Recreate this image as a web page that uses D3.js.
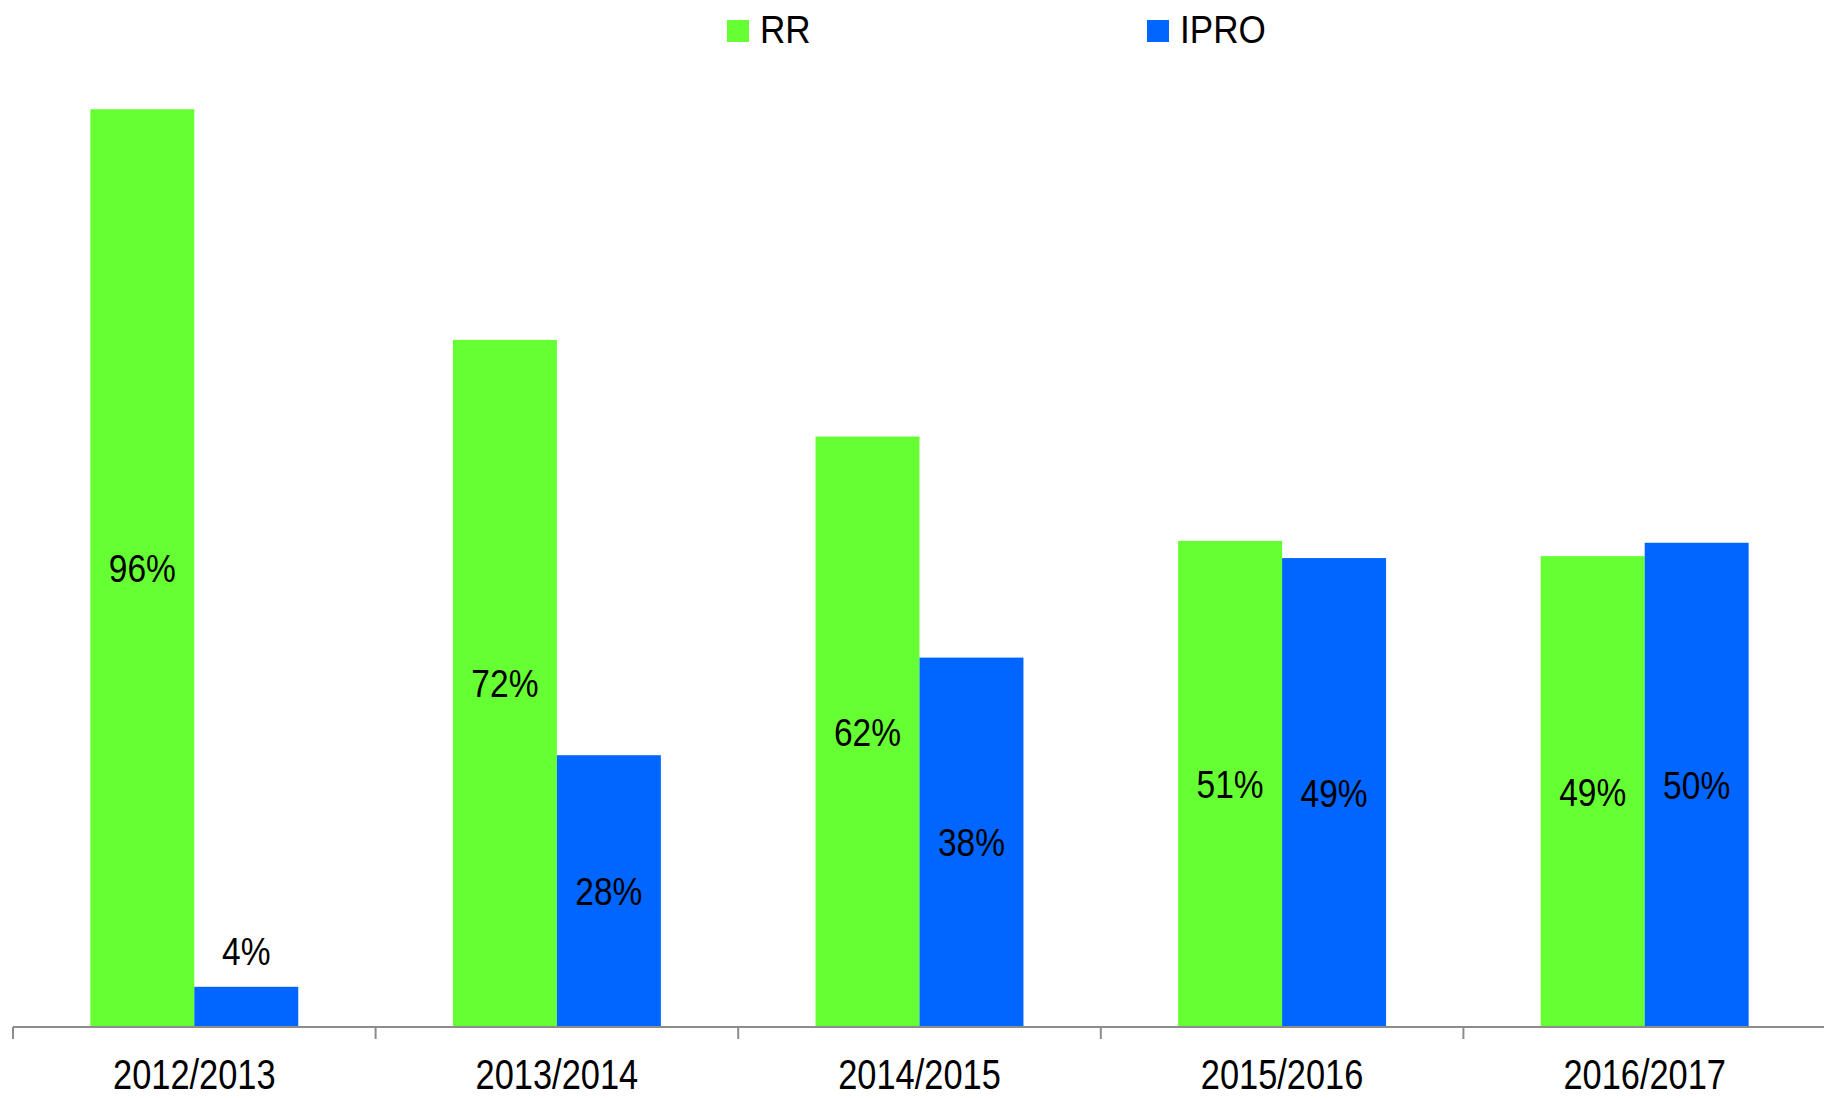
<!DOCTYPE html>
<html lang="en">
<head>
<meta charset="UTF-8">
<title>RR vs IPRO</title>
<script src="https://d3js.org/d3.v7.min.js"></script>
<style>
  body { margin: 0; background: #fff; }
  svg text { font-family: "Liberation Sans Narrow", "Arial Narrow", "Liberation Sans", Arial, sans-serif; fill: #000; }
</style>
</head>
<body>
<svg id="chart"></svg>
<script>
  // chart data
  var seasons = ["2012/2013", "2013/2014", "2014/2015", "2015/2016", "2016/2017"];
  var series = ["RR", "IPRO"];
  var rrValues = [95.9, 71.8, 61.7, 50.8, 49.2];
  var iproValues = [4.2, 28.4, 38.6, 49.0, 50.6];
  var rrLabels = ["96%", "72%", "62%", "51%", "49%"];
  var iproLabels = ["4%", "28%", "38%", "49%", "50%"];

  var colors = { RR: "#66ff33", IPRO: "#0066ff" };

  var W = 1824, H = 1098;
  var svg = d3.select("#chart").attr("width", W).attr("height", H);

  // no narrow font installed, so squeeze the text horizontally
  function squeeze(sel, sx, fx, fy) {
    sel.attr("transform", function (d, i) {
      return "translate(" + fx(d, i) + "," + fy(d, i) + ") scale(" + sx + ",1)";
    });
  }

  // x scale for the seasons, y scale for the percentage
  var x0 = d3.scaleBand().domain(seasons).range([13, 1826]).padding(0);
  var x1 = d3.scaleBand().domain(series).range([0, x0.bandwidth()])
    .paddingInner(0).paddingOuter(0.744);
  var y = d3.scaleLinear().domain([0, 100]).range([1027, 70]);

  // build rows from the arrays
  var rows = seasons.map(function (s, i) {
    return [
      { season: s, key: "RR", value: rrValues[i], label: rrLabels[i] },
      { season: s, key: "IPRO", value: iproValues[i], label: iproLabels[i] }
    ];
  });

  var groups = svg.selectAll("g.season")
    .data(rows)
    .enter().append("g")
    .attr("class", "season")
    .attr("transform", function (d, i) { return "translate(" + x0(seasons[i]) + ",0)"; });

  groups.selectAll("rect")
    .data(function (d) { return d; })
    .enter().append("rect")
    .attr("x", function (d) { return x1(d.key); })
    .attr("y", function (d) { return y(d.value); })
    .attr("width", x1.bandwidth())
    .attr("height", function (d) { return y(0) - y(d.value); })
    .attr("fill", function (d) { return colors[d.key]; });

  // value labels: centred inside the bar, or above it when the bar is too short
  groups.selectAll("text.val")
    .data(function (d) { return d; })
    .enter().append("text")
    .attr("class", "val")
    .attr("text-anchor", "middle")
    .attr("font-size", "39px")
    .text(function (d) { return d.label; })
    .call(squeeze, 0.86,
      function (d) { return x1(d.key) + x1.bandwidth() / 2; },
      function (d) {
        var h = y(0) - y(d.value);
        if (h < 60) return y(d.value) - 22;
        return (y(d.value) + y(0)) / 2 + 14;
      });

  // x axis
  var axis = svg.append("g").attr("transform", "translate(0," + y(0) + ")");
  axis.append("line")
    .attr("x1", 13).attr("x2", W)
    .attr("y1", 0).attr("y2", 0)
    .attr("stroke", "#8c8c8c").attr("stroke-width", 2);
  axis.selectAll("line.tick")
    .data(seasons)
    .enter().append("line")
    .attr("class", "tick")
    .attr("x1", function (d) { return x0(d); })
    .attr("x2", function (d) { return x0(d); })
    .attr("y1", 0).attr("y2", 12)
    .attr("stroke", "#8c8c8c").attr("stroke-width", 2);
  axis.selectAll("text")
    .data(seasons)
    .enter().append("text")
    .attr("text-anchor", "middle")
    .attr("font-size", "43px")
    .text(function (d) { return d; })
    .call(squeeze, 0.8,
      function (d) { return x0(d) + x0.bandwidth() / 2; },
      function () { return 62; });

  // legend
  var legendX = d3.scaleOrdinal().domain(series).range([727, 1147]);
  var legend = svg.selectAll("g.legend")
    .data(series)
    .enter().append("g")
    .attr("class", "legend")
    .attr("transform", function (d) { return "translate(" + legendX(d) + ",0)"; });
  legend.append("rect")
    .attr("x", 0).attr("y", 20)
    .attr("width", 22).attr("height", 22)
    .attr("fill", function (d) { return colors[d]; });
  legend.append("text")
    .attr("font-size", "39px")
    .text(function (d) { return d; })
    .call(squeeze, 0.9, function () { return 33; }, function () { return 43; });
</script>
</body>
</html>
